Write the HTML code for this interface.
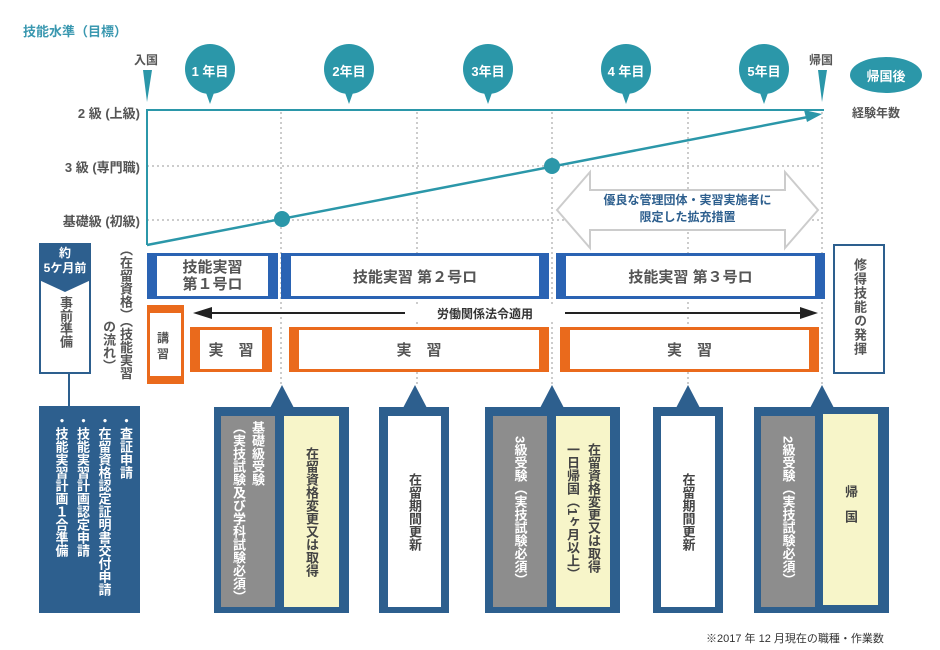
<!DOCTYPE html>
<html><head><meta charset="utf-8"><style>
*{margin:0;padding:0;box-sizing:border-box}
body{width:940px;height:650px;background:#fff;position:relative;overflow:hidden;font-family:"Liberation Sans","Noto Sans CJK JP",sans-serif;font-weight:bold;color:#555}
.a{position:absolute}
.v{writing-mode:vertical-rl;text-orientation:upright;white-space:nowrap}
.blue{border:3px solid #2a63b3;border-left-width:10px;border-right-width:10px;background:#fff;display:flex;align-items:center;justify-content:center;color:#555;font-size:15px}
.or{border:3px solid #ea6a1c;border-left-width:10px;border-right-width:10px;background:#fff;display:flex;align-items:center;justify-content:center;color:#555;font-size:15px}
.db{background:#2d5f8e}
.in{display:flex;align-items:center;justify-content:center;font-size:13px;color:#444}
</style></head><body>
<svg class="a" style="left:0;top:0" width="940" height="650">
<g stroke="#bbb" stroke-width="1.5" stroke-dasharray="2,3">
<line x1="147" y1="166" x2="822" y2="166"/><line x1="147" y1="220" x2="822" y2="220"/>
<line x1="281" y1="112" x2="281" y2="385"/><line x1="417" y1="112" x2="417" y2="385"/>
<line x1="552" y1="112" x2="552" y2="385"/><line x1="688" y1="112" x2="688" y2="385"/>
<line x1="822" y1="112" x2="822" y2="385"/>
</g>
<polyline points="147,245 147,110 824,110" fill="none" stroke="#2b97a9" stroke-width="2"/>
<line x1="147" y1="245" x2="808" y2="117" stroke="#2b97a9" stroke-width="2.5"/>
<polygon points="822,114 804,110 807,122" fill="#2b97a9"/>
<circle cx="282" cy="219" r="8" fill="#2b97a9"/><circle cx="552" cy="166" r="8" fill="#2b97a9"/>
<polygon points="143,70 152,70 147,102" fill="#2b97a9"/>
<polygon points="818,70 827,70 822,102" fill="#2b97a9"/>
<g fill="#2b97a9">
<circle cx="210" cy="69" r="25"/><polygon points="205,90 215,90 210,104"/>
<circle cx="349" cy="69" r="25"/><polygon points="344,90 354,90 349,104"/>
<circle cx="488" cy="69" r="25"/><polygon points="483,90 493,90 488,104"/>
<circle cx="626" cy="69" r="25"/><polygon points="621,90 631,90 626,104"/>
<circle cx="764" cy="69" r="25"/><polygon points="759,90 769,90 764,104"/>
<ellipse cx="886" cy="75" rx="36" ry="18"/>
</g>
<polygon points="557,210 590,172 590,190 785,190 785,172 818,210 785,248 785,230 590,230 590,248" fill="#fff" stroke="#ccc" stroke-width="2"/>
<line x1="69" y1="373" x2="69" y2="407" stroke="#2d5f8e" stroke-width="2"/>
<line x1="205" y1="313" x2="808" y2="313" stroke="#222" stroke-width="2"/>
<polygon points="193,313 212,307 212,319" fill="#222"/><polygon points="818,313 800,307 800,319" fill="#222"/>
<g fill="#2d5f8e">
<polygon points="282,385 270,408 294,408"/><polygon points="415,385 403,408 427,408"/>
<polygon points="552,385 540,408 564,408"/><polygon points="688,385 676,408 700,408"/>
<polygon points="822,385 810,408 834,408"/>
</g>
</svg>
<div class="a" style="left:23px;top:21px;font-size:13px;color:#3a98b0">技能水準（目標）</div>
<div class="a" style="left:134px;top:51px;font-size:12px">入国</div>
<div class="a" style="left:809px;top:51px;font-size:12px">帰国</div>
<div class="a" style="left:190px;top:61px;width:40px;text-align:center;color:#fff;font-size:13px">1 年目</div>
<div class="a" style="left:329px;top:61px;width:40px;text-align:center;color:#fff;font-size:13px">2年目</div>
<div class="a" style="left:468px;top:61px;width:40px;text-align:center;color:#fff;font-size:13px">3年目</div>
<div class="a" style="left:604px;top:61px;width:44px;text-align:center;color:#fff;font-size:13px">4 年目</div>
<div class="a" style="left:744px;top:61px;width:40px;text-align:center;color:#fff;font-size:13px">5年目</div>
<div class="a" style="left:850px;top:66px;width:72px;text-align:center;color:#fff;font-size:13px">帰国後</div>
<div class="a" style="left:852px;top:104px;font-size:12px">経験年数</div>
<div class="a" style="left:40px;top:103px;width:100px;text-align:right;font-size:13px">2 級 (上級)</div>
<div class="a" style="left:40px;top:157px;width:100px;text-align:right;font-size:13px">3 級 (専門職)</div>
<div class="a" style="left:40px;top:211px;width:100px;text-align:right;font-size:13px">基礎級 (初級)</div>
<div class="a" style="left:557px;top:192px;width:261px;text-align:center;font-size:12px;color:#2d5f8e;line-height:17px">優良な管理団体・実習実施者に<br>限定した拡充措置</div>
<div class="a db" style="left:39px;top:243px;width:52px;height:40px;color:#fff;font-size:12px;text-align:center;line-height:15px;padding-top:3px">約<br>5ケ月前</div>
<div class="a" style="left:39px;top:280px;width:52px;height:94px;border:2px solid #2d5f8e;border-top:none;background:#fff"></div>
<svg class="a" style="left:39px;top:280px" width="52" height="14"><polygon points="0,0 52,0 26,12" fill="#2d5f8e"/></svg>
<div class="a v" style="left:56px;top:296px;font-size:13px;line-height:18px">事前準備</div>
<div class="a v" style="left:117px;top:243px;font-size:13px;line-height:16px">（在留資格）（技能実習</div>
<div class="a v" style="left:100px;top:320px;font-size:13px;line-height:16px">の流れ）</div>
<div class="a blue" style="left:147px;top:253px;width:131px;height:46px;line-height:17px;text-align:center">技能実習<br>第１号ロ</div>
<div class="a blue" style="left:281px;top:253px;width:268px;height:46px">技能実習 第２号ロ</div>
<div class="a blue" style="left:556px;top:253px;width:269px;height:46px">技能実習 第３号ロ</div>
<div class="a" style="left:833px;top:244px;width:52px;height:130px;border:2px solid #2d5f8e"></div>
<div class="a v" style="left:850px;top:258px;font-size:13px;letter-spacing:1px">修得技能の発揮</div>
<div class="a" style="left:147px;top:305px;width:37px;height:79px;border:3px solid #ea6a1c;border-top-width:8px;border-bottom-width:8px"></div>
<div class="a" style="left:157px;top:330px;font-size:12px;width:16px;line-height:16px">講習</div>
<div class="a" style="left:405px;top:305px;width:160px;text-align:center;font-size:12px;color:#333;background:#fff">労働関係法令適用</div>
<div class="a or" style="left:190px;top:327px;width:82px;height:45px">実　習</div>
<div class="a or" style="left:289px;top:327px;width:260px;height:45px">実　習</div>
<div class="a or" style="left:560px;top:327px;width:259px;height:45px">実　習</div>
<div class="a db" style="left:39px;top:406px;width:101px;height:207px"></div>
<div class="a v" style="left:50px;top:414px;font-size:13px;color:#fff;line-height:21.5px;text-orientation:mixed">・査証申請<br>・在留資格認定証明書交付申請<br>・技能実習計画認定申請<br>・技能実習計画１合準備</div>
<!-- bottom boxes -->
<div class="a db" style="left:214px;top:407px;width:135px;height:206px"></div>
<div class="a in" style="left:221px;top:416px;width:54px;height:191px;background:#8d8d8d"><div class="v" style="color:#fff;font-size:13px;line-height:19px;text-orientation:mixed">基礎級受験<br>（実技試験及び学科試験必須）</div></div>
<div class="a in" style="left:284px;top:416px;width:55px;height:191px;background:#f7f5c9"><div class="v">在留資格変更又は取得</div></div>
<div class="a db" style="left:379px;top:407px;width:70px;height:206px"></div>
<div class="a in" style="left:388px;top:416px;width:53px;height:191px;background:#fff"><div class="v">在留期間更新</div></div>
<div class="a db" style="left:485px;top:407px;width:135px;height:206px"></div>
<div class="a in" style="left:493px;top:416px;width:54px;height:191px;background:#8d8d8d"><div class="v" style="color:#fff;text-orientation:mixed">3級受験（実技試験必須）</div></div>
<div class="a in" style="left:556px;top:416px;width:54px;height:191px;background:#f7f5c9"><div class="v" style="line-height:21px;text-orientation:mixed">在留資格変更又は取得<br>一日帰国（1ヶ月以上）</div></div>
<div class="a db" style="left:653px;top:407px;width:70px;height:206px"></div>
<div class="a in" style="left:661px;top:416px;width:54px;height:191px;background:#fff"><div class="v">在留期間更新</div></div>
<div class="a db" style="left:754px;top:407px;width:135px;height:206px"></div>
<div class="a in" style="left:761px;top:416px;width:54px;height:191px;background:#8d8d8d"><div class="v" style="color:#fff;text-orientation:mixed">2級受験（実技試験必須）</div></div>
<div class="a in" style="left:823px;top:414px;width:55px;height:191px;background:#f7f5c9"><div class="v" style="letter-spacing:12px">帰国</div></div>
<div class="a" style="left:706px;top:630px;font-size:11px;font-weight:normal;color:#333">※2017 年 12 月現在の職種・作業数</div>
</body></html>
